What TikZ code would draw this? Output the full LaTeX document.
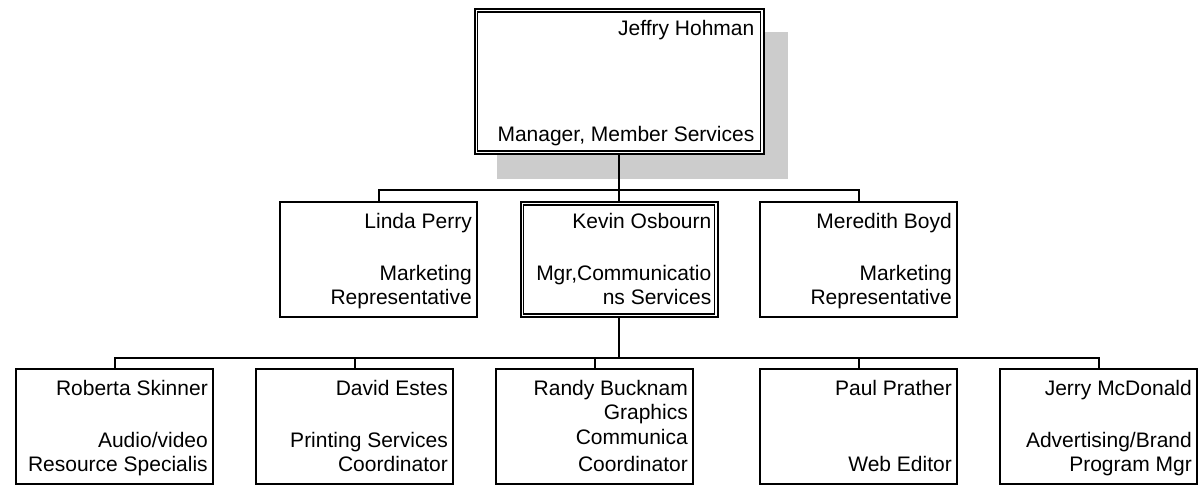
\documentclass[tikz,border=0pt]{standalone}
\usepackage{fontspec}
\setmainfont{Liberation Sans}
\usetikzlibrary{calc}
\begin{document}
\begin{tikzpicture}[x=1pt,y=-1pt,
  box/.style={draw,line width=2pt,fill=white,rectangle,inner sep=0pt,minimum width=197pt,minimum height=115pt},
  topbox/.style={box,minimum width=289pt,minimum height=145pt},
  txt/.style={anchor=base east,inner sep=0pt,font=\fontsize{21pt}{24pt}\selectfont},
  conn/.style={line width=2pt},
  inner/.style={line width=1.3pt}]
\useasboundingbox (0,0) rectangle (1198,487);
% top box with shadow
\node[topbox,draw=none,fill=none] (jh) at (619,81.5) {};
\fill[black!20] ($(jh.north west)+(23,24)$) rectangle ($(jh.south east)+(23,24)$);
\node[topbox] at (jh) {};
\draw[inner] ($(jh.north west)+(4,4)$) rectangle ($(jh.south east)+(-4,-4)$);
\node[txt] (jh1) at ($(jh.north east)+(-10,28)$) {Jeffry Hohman};
\node[txt] (jh2) at ($(jh.south east)+(-10,-14)$) {Manager, Member Services};
% row 2
\node[box] (lp) at (378.5,259.5) {};
\node[box] (ko) at (619,259.5) {};
\draw[inner] ($(ko.north west)+(4,4)$) rectangle ($(ko.south east)+(-4,-4)$);
\node[box] (mb) at (858.5,259.5) {};
\node[txt] (lp1) at ($(lp.north east)+(-6,27)$) {Linda Perry};
\node[txt] (lp2) at ($(lp.south east)+(-6,-38)$) {Marketing};
\node[txt] (lp3) at ($(lp.south east)+(-6,-14)$) {Representative};
\node[txt] (ko1) at ($(ko.north east)+(-7,27)$) {Kevin Osbourn};
\node[txt] (ko2) at ($(ko.south east)+(-7,-38)$) {Mgr,Communicatio};
\node[txt] (ko3) at ($(ko.south east)+(-7,-14)$) {ns Services};
\node[txt] (mb1) at ($(mb.north east)+(-6,27)$) {Meredith Boyd};
\node[txt] (mb2) at ($(mb.south east)+(-6,-38)$) {Marketing};
\node[txt] (mb3) at ($(mb.south east)+(-6,-14)$) {Representative};
% row 3
\node[box] (rs) at (114.5,426.5) {};
\node[box] (de) at (354.5,426.5) {};
\node[box] (rb) at (594.5,426.5) {};
\node[box] (pp) at (858.5,426.5) {};
\node[box] (jm) at (1098.5,426.5) {};
\node[txt] (rs1) at ($(rs.north east)+(-6,27)$) {Roberta Skinner};
\node[txt] (rs2) at ($(rs.south east)+(-6,-38)$) {Audio/video};
\node[txt] (rs3) at ($(rs.south east)+(-6,-14)$) {Resource Specialis};
\node[txt] (de1) at ($(de.north east)+(-6,27)$) {David Estes};
\node[txt] (de2) at ($(de.south east)+(-6,-38)$) {Printing Services};
\node[txt] (de3) at ($(de.south east)+(-6,-14)$) {Coordinator};
\node[txt] (rb1) at ($(rb.north east)+(-6,27)$) {Randy Bucknam};
\node[txt] (rb2) at ($(rb.north east)+(-6,51.7)$) {Graphics};
\node[txt] (rb3) at ($(rb.north east)+(-6,76.3)$) {Communica};
\node[txt] (rb4) at ($(rb.south east)+(-6,-14)$) {Coordinator};
\node[txt] (pp1) at ($(pp.north east)+(-6,27)$) {Paul Prather};
\node[txt] (pp2) at ($(pp.south east)+(-6,-14)$) {Web Editor};
\node[txt] (jm1) at ($(jm.north east)+(-6,27)$) {Jerry McDonald};
\node[txt] (jm2) at ($(jm.south east)+(-6,-38)$) {Advertising/Brand};
\node[txt] (jm3) at ($(jm.south east)+(-6,-14)$) {Program Mgr};
% connectors
\coordinate (b1) at (0,190);
\coordinate (b2) at (0,357.5);
\draw[conn] (jh.south) -- (jh.south |- b1);
\draw[conn] (lp.north) -- (lp.north |- b1) -- (mb.north |- b1) -- (mb.north);
\draw[conn] (ko.north) -- (ko.north |- b1);
\draw[conn] (ko.south) -- (ko.south |- b2);
\draw[conn] (rs.north) -- (rs.north |- b2) -- (jm.north |- b2) -- (jm.north);
\draw[conn] (de.north) -- (de.north |- b2);
\draw[conn] (rb.north) -- (rb.north |- b2);
\draw[conn] (pp.north) -- (pp.north |- b2);
\end{tikzpicture}
\end{document}
